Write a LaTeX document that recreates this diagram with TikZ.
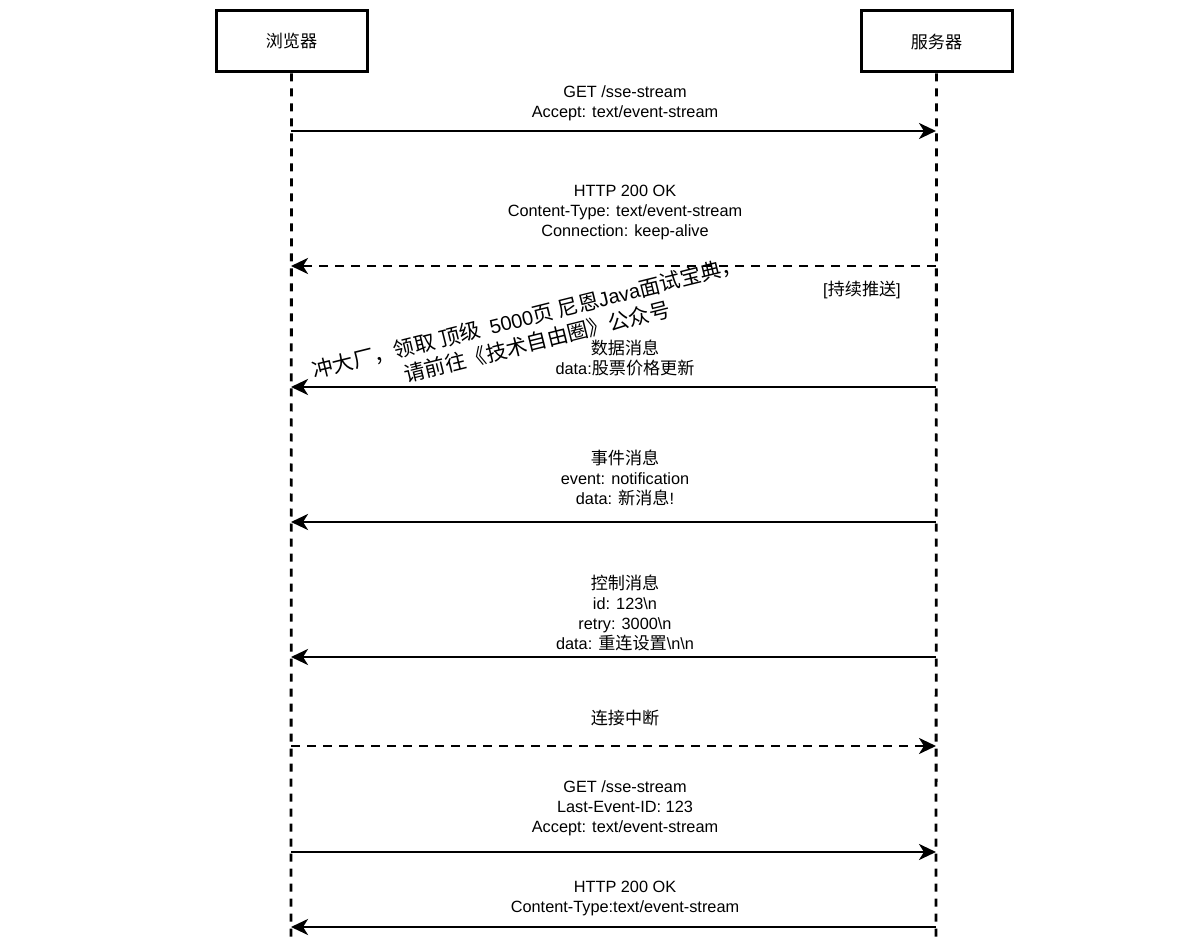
\documentclass[tikz,border=0pt]{standalone}
\usepackage{fontspec}
\setmainfont{Liberation Sans}
\newfontfamily\cjk[Scale=1.05]{Noto Sans CJK SC}
\usetikzlibrary{arrows.meta}
\tikzset{
  actor/.style={draw=black, line width=3pt, minimum width=151pt, minimum height=61pt, inner sep=0pt, fill=white},
  life/.style={line width=2.8pt, dash pattern=on 8pt off 7pt},
  msg/.style={line width=2.8pt, -{Stealth[length=17pt, width=16pt, inset=5pt]}},
  dmsg/.style={msg, dash pattern=on 9pt off 7pt},
  lbl/.style={align=center, inner sep=0pt},
}
\begin{document}
\begin{tikzpicture}[x=1pt, y=-1pt, font=\fontsize{16.3}{20}\selectfont]
\useasboundingbox (0,0) rectangle (1179,941);
% actors
\node[actor] (browser) at (291.5,41.5) {\cjk 浏览器};
\node[actor] (server) at (936.5,41.5) {\cjk 服务器};
\coordinate (bend) at (291,941);
\coordinate (send) at (936,941);
\draw[life] (browser.south) -- (bend);
\draw[life] (server.south) -- (send);
% message anchor points
\foreach \i/\y in {1/131,2/266,4/387,5/522,6/657,7/746,8/852,9/927}{
  \coordinate (b\i) at (291,\y);
  \coordinate (s\i) at (936,\y);
}
% messages
\draw[msg] (b1) -- (s1);
\node[lbl] (m1) at (625,103) {GET /sse-stream\\Accept: text/event-stream};
\draw[dmsg] (s2) -- (b2);
\node[lbl] (m2) at (625,213) {HTTP 200 OK\\Content-Type: text/event-stream\\Connection: keep-alive};
\node[lbl] (note) at (862,290) {[{\cjk 持续推送}]};
\draw[msg] (s4) -- (b4);
\node[lbl] (m4) at (625,358) {{\cjk 数据消息}\\data:{\cjk 股票价格更新}};
\draw[msg] (s5) -- (b5);
\node[lbl] (m5) at (625,478) {{\cjk 事件消息}\\event: notification\\data: {\cjk 新消息}!};
\draw[msg] (s6) -- (b6);
\node[lbl] (m6) at (625,613) {{\cjk 控制消息}\\id: 123\textbackslash n\\retry: 3000\textbackslash n\\data: {\cjk 重连设置}\textbackslash n\textbackslash n};
\draw[dmsg] (b7) -- (s7);
\node[lbl] (m7) at (625,718) {{\cjk 连接中断}};
\draw[msg] (b8) -- (s8);
\node[lbl] (m8) at (625,808.5) {GET /sse-stream\\Last-Event-ID: 123\\Accept: text/event-stream};
\draw[msg] (s9) -- (b9);
\node[lbl] (m9) at (625,898) {HTTP 200 OK\\Content-Type:text/event-stream};
% watermark
\node[lbl, rotate=14, font=\fontsize{20}{26}\selectfont] (wm) at (530,330)
  {{\cjk 冲大厂，领取 顶级}\hspace{10pt}5000{\cjk 页 尼恩}Java{\cjk 面试宝典，}\\\hspace{8pt}{\cjk 请前往《技术自由圈》公众号}};
\end{tikzpicture}
\end{document}
